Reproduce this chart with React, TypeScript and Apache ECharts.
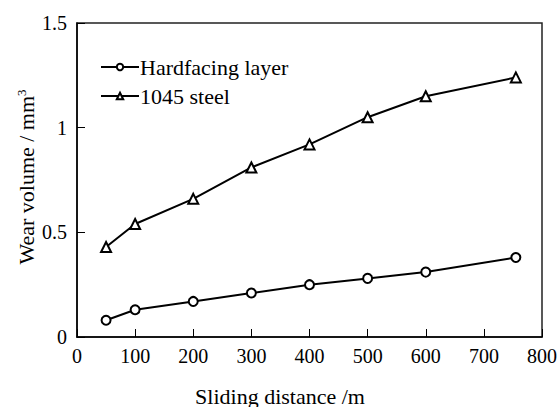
import React, { useEffect, useRef } from "react";
import * as echarts from "echarts";

const distances = [50, 100, 200, 300, 400, 500, 600, 755];
const hardfacing = [0.08, 0.13, 0.17, 0.21, 0.25, 0.28, 0.31, 0.38];
const steel1045 = [0.43, 0.54, 0.66, 0.81, 0.92, 1.05, 1.15, 1.24];
const seriesNames = ["Hardfacing layer", "1045 steel"];
const xTitle = "Sliding distance /m";
const yTitle = "Wear volume / mm";

const FONT = "Liberation Serif";

const t = (size: number) => ({ fontFamily: FONT, fontSize: size, color: "#000" });

const css = `#root svg text, #root svg tspan { font-family: "Liberation Serif", "Times New Roman", serif !important; }`;

export default function App() {
  const ref = useRef<HTMLDivElement>(null);
  useEffect(() => {
    document.body.style.margin = "0";
    if (!ref.current) return;
    const chart = echarts.init(ref.current, undefined, { renderer: "svg" });
    const pair = (ys: number[]) => distances.map((x, i) => [x, ys[i]]);
    chart.setOption({
      animation: false,
      backgroundColor: "#ffffff",
      textStyle: { fontFamily: FONT, fontSize: 20, color: "#000" },
      grid: {
        left: 77,
        right: 17,
        top: 23,
        bottom: 70,
        show: true,
        borderColor: "#222",
        borderWidth: 1.5,
        backgroundColor: "transparent",
      },
      legend: {
        orient: "vertical",
        left: 95,
        top: 51,
        itemWidth: 38,
        itemHeight: 8,
        itemGap: 7,
        textStyle: { ...t(22), padding: [0, 0, 0, -4] },
        data: seriesNames,
      },
      graphic: [
        {
          type: "text",
          left: "center",
          top: 385,
          style: { text: xTitle, fontFamily: FONT, fontSize: 22, fill: "#000" },
        },
        {
          type: "text",
          x: 26,
          y: 177,
          rotation: Math.PI / 2,
          style: {
            text: "{a|" + yTitle + "}{s|3}",
            align: "center",
            verticalAlign: "middle",
            rich: {
              a: { fontFamily: FONT, fontSize: 22, fill: "#000" },
              s: { fontFamily: FONT, fontSize: 13, fill: "#000", verticalAlign: "top" },
            },
          },
        },
      ],
      xAxis: {
        type: "value",
        min: 0,
        max: 800,
        interval: 100,
        axisLine: { show: true, lineStyle: { color: "#000", width: 1.5 } },
        axisTick: { show: true, inside: true, length: 8, lineStyle: { color: "#000", width: 1 } },
        axisLabel: { ...t(20), margin: 9 },
        splitLine: { show: false },
      },
      yAxis: {
        type: "value",
        min: 0,
        max: 1.5,
        interval: 0.5,
        axisLine: { show: true, lineStyle: { color: "#000", width: 1.5 } },
        axisTick: { show: true, inside: true, length: 8, lineStyle: { color: "#000", width: 1 } },
        axisLabel: {
          ...t(20),
          margin: 10,
          formatter: (v: number) => String(v),
        },
        splitLine: { show: false },
      },
      series: [
        {
          name: seriesNames[0],
          type: "line",
          data: pair(hardfacing),
          symbol: "emptyCircle",
          symbolSize: 9,
          lineStyle: { color: "#000", width: 2 },
          itemStyle: { color: "#000", borderColor: "#000", borderWidth: 1 },
        },
        {
          name: seriesNames[1],
          type: "line",
          data: pair(steel1045),
          symbol: "emptyTriangle",
          symbolSize: 10,
          lineStyle: { color: "#000", width: 2 },
          itemStyle: { color: "#000", borderColor: "#000", borderWidth: 1 },
        },
      ],
    });
    return () => chart.dispose();
  }, []);
  return (
    <>
      <style>{css}</style>
      <div ref={ref} style={{ width: 560, height: 407 }} />
    </>
  );
}
